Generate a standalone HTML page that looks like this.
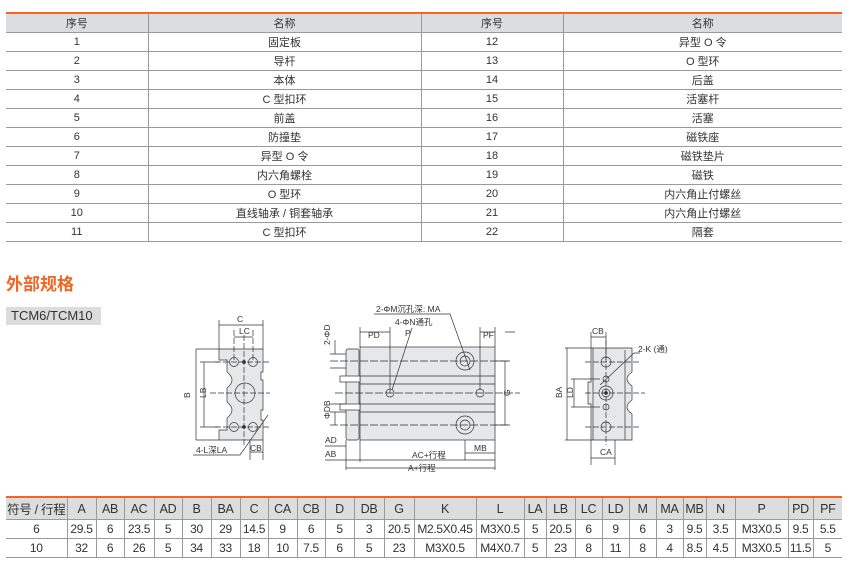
<!DOCTYPE html>
<html><head><meta charset="utf-8"><style>
body{margin:0;width:856px;height:570px;background:#fff;font-family:"Liberation Sans","Noto Sans CJK SC",sans-serif;color:#333;position:relative;overflow:hidden}
table{border-collapse:collapse;position:absolute;table-layout:fixed}
td{text-align:center;padding:0;font-size:11px;border-bottom:1px solid #9a9a9a;border-left:1px solid #9a9a9a;white-space:nowrap;overflow:hidden}
td:first-child{border-left:none}
tr.h td{background:#dcdddf}
#t1{left:6px;top:12px;width:836px;border-top:2px solid #f26522}
#t1 td{height:18px}
#t2{left:6px;top:496px;width:836px;border-top:2px solid #f26522}
#t2 td{font-size:12px;height:18px;letter-spacing:-0.3px}
#t2 tr.h td{height:21px;font-size:12.5px}
h2{position:absolute;left:6px;top:270px;margin:0;font-size:17px;color:#f26522;font-weight:bold}
.tag{position:absolute;left:6px;top:307px;width:95px;height:18px;background:#dcdcdc;font-size:13px;line-height:18px;text-indent:5px}
svg{position:absolute;left:0;top:0}
svg text{font-family:"Liberation Sans","Noto Sans CJK SC",sans-serif;font-size:8.5px;fill:#333;stroke:none}
</style></head><body>
<table id="t1">
<colgroup><col style="width:142px"><col style="width:273px"><col style="width:142px"><col></colgroup>
<tr class="h"><td>序号</td><td>名称</td><td>序号</td><td>名称</td></tr>
<tr><td>1</td><td>固定板</td><td>12</td><td>异型 O 令</td></tr>
<tr><td>2</td><td>导杆</td><td>13</td><td>O 型环</td></tr>
<tr><td>3</td><td>本体</td><td>14</td><td>后盖</td></tr>
<tr><td>4</td><td>C 型扣环</td><td>15</td><td>活塞杆</td></tr>
<tr><td>5</td><td>前盖</td><td>16</td><td>活塞</td></tr>
<tr><td>6</td><td>防撞垫</td><td>17</td><td>磁铁座</td></tr>
<tr><td>7</td><td>异型 O 令</td><td>18</td><td>磁铁垫片</td></tr>
<tr><td>8</td><td>内六角螺栓</td><td>19</td><td>磁铁</td></tr>
<tr><td>9</td><td>O 型环</td><td>20</td><td>内六角止付螺丝</td></tr>
<tr><td>10</td><td>直线轴承 / 铜套轴承</td><td>21</td><td>内六角止付螺丝</td></tr>
<tr><td>11</td><td>C 型扣环</td><td>22</td><td>隔套</td></tr>
</table>
<h2>外部规格</h2>
<div class="tag">TCM6/TCM10</div>
<svg width="856" height="570" viewBox="0 0 856 570" fill="none" stroke="#333" stroke-width="0.7">
<!-- left view -->
<path d="M219,349 H263 V372 H261 V380 H263 V410 H261 V420 H263 V440 H219 V430 H227 V418 Q237,410 227,402 V388 Q237,380 227,372 V360 H219 Z" fill="#e6e7e9"/>
<circle cx="245" cy="393" r="10"/>
<circle cx="234" cy="362" r="4.5"/><circle cx="253" cy="362" r="4.5"/>
<circle cx="234" cy="427" r="4.5"/><circle cx="253" cy="427" r="4.5"/>
<circle cx="244" cy="362" r="1.5" fill="#333"/><circle cx="244" cy="427" r="1.5" fill="#333"/>
<path d="M215,362H270M215,427H270M210,393H270M244,335V445M234,330V360M253,330V360" stroke-dasharray="6,2"/>
<path d="M219,320V349M263,320V349M219,325H263M234,337H253M196,349H219M196,440H219M196,349V440M204,362V427M200,362H219M200,427H219"/>
<text x="237" y="322">C</text><text x="239" y="334">LC</text>
<text x="190" y="398" transform="rotate(-90 190 398)">B</text><text x="206" y="398" transform="rotate(-90 206 398)">LB</text>
<path d="M193,455H240L268,415M250,440V460M263,440V460M250,452H263"/>
<text x="196" y="453">4-L深LA</text><text x="250" y="451">CB</text>
<!-- middle view -->
<rect x="346" y="349" width="13" height="91" rx="2" fill="#e6e7e9"/>
<rect x="360" y="347" width="135" height="93" fill="#e6e7e9"/>
<rect x="340" y="376" width="20" height="6" fill="#fff"/><rect x="340" y="404" width="20" height="6" fill="#fff"/>
<path d="M360,376H495M360,384H495M360,404H495M360,412H495"/>
<circle cx="465" cy="361" r="9"/><circle cx="465" cy="361" r="5"/>
<circle cx="465" cy="425" r="9"/><circle cx="465" cy="425" r="5"/>
<circle cx="390" cy="393" r="4"/><circle cx="480" cy="393" r="4"/>
<path d="M330,361H510M330,425H510M335,393H520" stroke-dasharray="8,2"/>
<path d="M360,327V347M390,327V393M360,332H390M480,327V390M480,332H495M495,327V347M505,332H515"/>
<text x="368" y="338">PD</text><text x="483" y="338">PF</text>
<path d="M374,314H450L470,370"/>
<text x="376" y="312">2-ΦM沉孔深: MA</text><text x="395" y="325">4-ΦN通孔</text>
<path d="M412,328L392,390"/><text x="405" y="336">P</text>
<path d="M495,361H510M495,425H510M505,361V425"/><text x="510" y="396" transform="rotate(-90 510 396)">G</text>
<path d="M330,354H346M330,368H346M335,340V354M330,412H346M330,404H346M335,412V425"/>
<text x="330" y="345" transform="rotate(-90 330 345)">2-ΦD</text>
<text x="330" y="419" transform="rotate(-90 330 419)">ΦDB</text>
<path d="M346,440V470M360,440V462M495,440V470M465,440V460M325,446H346M325,460H360M360,460H495M346,468H495M465,453H495"/>
<text x="325" y="443">AD</text><text x="325" y="457">AB</text>
<text x="412" y="458">AC+行程</text><text x="408" y="471">A+行程</text><text x="474" y="451">MB</text>
<!-- right view -->
<path d="M591,348H632V372Q622,379 632,386V400Q622,407 632,414V440H591V404H588V382H591Z" fill="#e6e7e9"/>
<path d="M593,348V440M625,350V440"/>
<circle cx="606" cy="362" r="5"/><circle cx="606" cy="427" r="5"/>
<circle cx="606" cy="379" r="3"/><circle cx="606" cy="407" r="3"/>
<circle cx="606" cy="393" r="7"/><circle cx="606" cy="393" r="4"/><circle cx="606" cy="393" r="1.5" fill="#333"/>
<path d="M585,362H640M585,427H640M585,393H645M606,340V445" stroke-dasharray="6,2"/>
<path d="M591,332V348M606,332V360M591,337H606M565,348H591M565,440H591M567,348V440M574,379V407M571,379H600M571,407H600M591,440V465M615,440V465M591,458H615M640,353H634L600,385"/>
<text x="592" y="334">CB</text><text x="638" y="352">2-K (通)</text><text x="600" y="455">CA</text>
<text x="562" y="398" transform="rotate(-90 562 398)">BA</text><text x="573" y="398" transform="rotate(-90 573 398)">LD</text>
</svg>
<table id="t2">
<colgroup><col style="width:61px"><col style="width:29px"><col style="width:28px"><col style="width:30px"><col style="width:28px"><col style="width:29px"><col style="width:29px"><col style="width:28px"><col style="width:29px"><col style="width:28px"><col style="width:29px"><col style="width:30px"><col style="width:30px"><col style="width:62px"><col style="width:48px"><col style="width:22px"><col style="width:29px"><col style="width:27px"><col style="width:27px"><col style="width:27px"><col style="width:27px"><col style="width:23px"><col style="width:29px"><col style="width:53px"><col style="width:25px"><col></colgroup>
<tr class="h"><td>符号 / 行程</td><td>A</td><td>AB</td><td>AC</td><td>AD</td><td>B</td><td>BA</td><td>C</td><td>CA</td><td>CB</td><td>D</td><td>DB</td><td>G</td><td>K</td><td>L</td><td>LA</td><td>LB</td><td>LC</td><td>LD</td><td>M</td><td>MA</td><td>MB</td><td>N</td><td>P</td><td>PD</td><td>PF</td></tr>
<tr><td>6</td><td>29.5</td><td>6</td><td>23.5</td><td>5</td><td>30</td><td>29</td><td>14.5</td><td>9</td><td>6</td><td>5</td><td>3</td><td>20.5</td><td>M2.5X0.45</td><td>M3X0.5</td><td>5</td><td>20.5</td><td>6</td><td>9</td><td>6</td><td>3</td><td>9.5</td><td>3.5</td><td>M3X0.5</td><td>9.5</td><td>5.5</td></tr>
<tr><td>10</td><td>32</td><td>6</td><td>26</td><td>5</td><td>34</td><td>33</td><td>18</td><td>10</td><td>7.5</td><td>6</td><td>5</td><td>23</td><td>M3X0.5</td><td>M4X0.7</td><td>5</td><td>23</td><td>8</td><td>11</td><td>8</td><td>4</td><td>8.5</td><td>4.5</td><td>M3X0.5</td><td>11.5</td><td>5</td></tr>
</table>
</body></html>
